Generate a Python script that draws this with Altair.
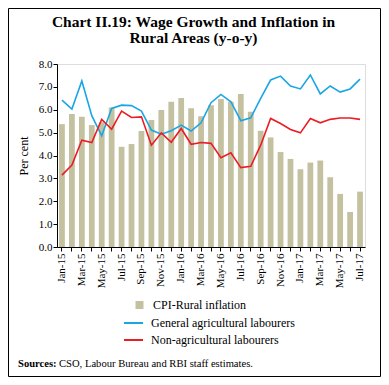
import altair as alt
import pandas as pd

months = ["Jan-15","Feb-15","Mar-15","Apr-15","May-15","Jun-15","Jul-15","Aug-15","Sep-15","Oct-15","Nov-15","Dec-15",
          "Jan-16","Feb-16","Mar-16","Apr-16","May-16","Jun-16","Jul-16","Aug-16","Sep-16","Oct-16","Nov-16","Dec-16",
          "Jan-17","Feb-17","Mar-17","Apr-17","May-17","Jun-17","Jul-17"]
cpi_rural = [5.37,5.81,5.69,5.33,5.45,6.10,4.38,4.50,5.07,5.55,5.99,6.35,
             6.51,6.07,5.72,6.20,6.47,6.35,6.69,5.91,5.08,4.79,4.15,3.85,
             3.40,3.69,3.78,3.05,2.32,1.53,2.42]
general_agri = [6.42,6.03,7.26,5.74,4.86,6.06,6.20,6.18,5.94,5.11,4.93,5.08,
                5.33,5.07,5.43,6.31,6.67,6.35,5.52,5.65,6.50,7.30,7.47,7.04,
                6.91,7.52,6.69,7.04,6.77,6.91,7.34]
non_agri = [3.14,3.58,4.67,4.57,5.58,5.15,5.94,5.66,5.69,4.45,4.99,4.58,
            5.18,4.49,4.57,4.53,3.90,4.12,3.47,3.53,4.45,5.62,5.40,5.14,
            4.99,5.62,5.43,5.58,5.64,5.64,5.58]

bar_name = "CPI-Rural inflation"
line_names = ["General agricultural labourers", "Non-agricultural labourers"]
title_lines = ["Chart II.19: Wage Growth and Inflation in", "Rural Areas (y-o-y)"]
source_bold = "Sources:"
source_text = "CSO, Labour Bureau and RBI staff estimates."

FONT = "Liberation Serif"

bars_df = pd.DataFrame({"month": months, "value": cpi_rural, "series": bar_name})
lines_df = pd.concat([
    pd.DataFrame({"month": months, "value": general_agri, "series": line_names[0]}),
    pd.DataFrame({"month": months, "value": non_agri, "series": line_names[1]}),
])

x_enc = alt.X("month:N", sort=months,
              scale=alt.Scale(paddingInner=0.42, paddingOuter=0.21),
              axis=alt.Axis(title=None, labelAngle=-90, labelFont=FONT, labelFontSize=11,
                            labelColor="black", domainColor="black", tickColor="black",
                            tickSize=4, labelPadding=2, labelOverlap=False,
                            labelExpr="test(/^(Jan|Mar|May|Jul|Sep|Nov)/, datum.label) ? datum.label : ''"))
y_axis = alt.Axis(title="Per cent", values=[0,1,2,3,4,5,6,7,8], format=".1f", labelOverlap=False,
                  grid=False, labelFont=FONT, labelFontSize=11, labelColor="black",
                  titleFont=FONT, titleFontSize=12, titleFontWeight="normal",
                  titleColor="black", titlePadding=8,
                  domainColor="black", tickColor="black", tickSize=4, labelPadding=1)
y_scale = alt.Scale(domain=[0, 8], nice=False)

bars = alt.Chart(bars_df).mark_bar().encode(
    x=x_enc,
    y=alt.Y("value:Q", scale=y_scale, axis=y_axis),
    fill=alt.Fill("series:N", scale=alt.Scale(domain=[bar_name], range=["#c4c1a0"]),
                  legend=alt.Legend(title=None, orient="none", legendX=76.5, legendY=235,
                                    symbolType="square", symbolSize=64, symbolStrokeWidth=0,
                                    labelFont=FONT, labelFontSize=12, labelColor="black",
                                    labelOffset=7.5, padding=0))
)

lines = alt.Chart(lines_df).mark_line(strokeWidth=1.6).encode(
    x=alt.X("month:N", sort=months),
    y=alt.Y("value:Q", scale=y_scale, axis=y_axis),
    stroke=alt.Stroke("series:N", scale=alt.Scale(domain=line_names, range=["#1aa6e4", "#ec1c24"]),
                      legend=alt.Legend(title=None, orient="none", legendX=66, legendY=248.5,
                                        symbolType="stroke", symbolSize=361, symbolStrokeWidth=2,
                                        labelFont=FONT, labelFontSize=12, labelColor="black",
                                        labelOffset=7, rowPadding=-1.3, padding=0))
)

title_df = pd.DataFrame({"line": title_lines, "pos": [0, 1]})
title1 = alt.Chart(title_df.iloc[[0]]).mark_text(font=FONT, fontSize=15.5, fontWeight="bold", align="center",
                                                baseline="alphabetic", color="black").encode(
    text="line:N", x=alt.value(136.5), y=alt.value(-37))
title2 = alt.Chart(title_df.iloc[[1]]).mark_text(font=FONT, fontSize=15.5, fontWeight="bold", align="center",
                                                baseline="alphabetic", color="black").encode(
    text="line:N", x=alt.value(136.5), y=alt.value(-21))

src_df = pd.DataFrame({"bold": [source_bold], "text": [source_text]})
src_bold = alt.Chart(src_df).mark_text(font=FONT, fontSize=10.6, fontWeight="bold", align="left",
                                        baseline="middle", color="black").encode(
    text="bold:N", x=alt.value(-39), y=alt.value(300))
src_norm = alt.Chart(src_df).mark_text(font=FONT, fontSize=10.6, align="left",
                                        baseline="middle", color="black").encode(
    text="text:N", x=alt.value(2), y=alt.value(300))

border = alt.Chart(src_df).mark_rect(fill=None, stroke="black", strokeWidth=1).encode(
    x=alt.value(-48.5), x2=alt.value(323.5), y=alt.value(-55.5), y2=alt.value(312.5))

chart = alt.layer(bars, lines, title1, title2, src_bold, src_norm, border).resolve_scale(
    fill="independent", stroke="independent"
).properties(
    width=308, height=183,
    padding={"left": 49, "top": 56, "right": 16, "bottom": 130},
    autosize=alt.AutoSizeParams(type="none"),
).configure_view(stroke=None).configure(background="white")

chart.save("out.html", embed_options={"renderer": "svg", "actions": False})
